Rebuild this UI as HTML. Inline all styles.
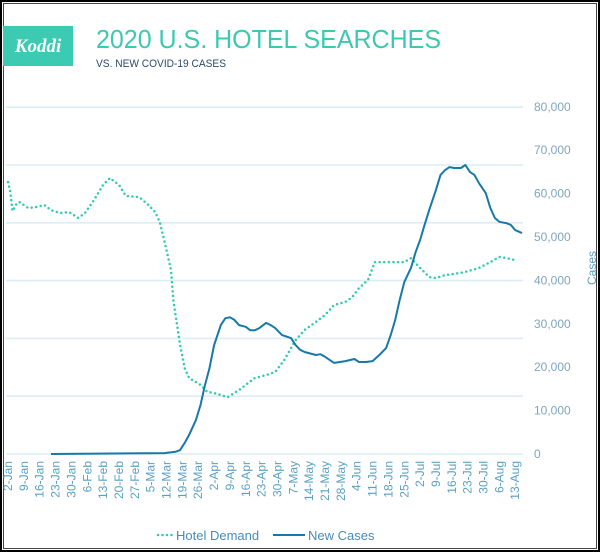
<!DOCTYPE html>
<html><head><meta charset="utf-8"><style>
body{margin:0;background:#fff}
#wrap{position:relative;width:600px;height:552px;box-sizing:border-box;border:2px solid #000;background:#fff;font-family:"Liberation Sans",sans-serif}
#inner{position:absolute;left:1px;top:1px;right:1px;bottom:1px;border:1px solid #444}
</style></head><body>
<div id="wrap"><div id="inner"></div>
<svg id="chart" width="600" height="552" style="position:absolute;left:-2px;top:-2px">
<rect x="3" y="26" width="70" height="40" fill="#3ccbb2"/>
<text x="38" y="52" text-anchor="middle" font-family="Liberation Serif,serif" font-style="italic" font-weight="bold" font-size="19" fill="#fff">Koddi</text>
<text x="96" y="48" font-size="26" fill="#3cc9b0" textLength="345" lengthAdjust="spacingAndGlyphs">2020 U.S. HOTEL SEARCHES</text>
<text x="96" y="67" font-size="11" fill="#2c4a68" textLength="130" lengthAdjust="spacingAndGlyphs">VS. NEW COVID-19 CASES</text>
<g id="grid"></g><g id="ylab"></g><g id="xlab"></g><g id="lines"></g>
<text transform="translate(596,268) rotate(-90)" text-anchor="middle" font-size="12" fill="#5aa0c4">Cases</text>
<line x1="158" y1="535" x2="173" y2="535" stroke="#2ecbb0" stroke-width="2.5" stroke-dasharray="0 4.5" stroke-linecap="round"/>
<text x="176" y="540" font-size="13" fill="#4a8ab8">Hotel Demand</text>
<line x1="273" y1="535" x2="305" y2="535" stroke="#1878a8" stroke-width="2"/>
<text x="308" y="540" font-size="13" fill="#4a8ab8">New Cases</text>
</svg></div>
<script>
const xTickLabels=["2-Jan","9-Jan","16-Jan","23-Jan","30-Jan","6-Feb","13-Feb","20-Feb","27-Feb","5-Mar","12-Mar","19-Mar","26-Mar","2-Apr","9-Apr","16-Apr","23-Apr","30-Apr","7-May","14-May","21-May","28-May","4-Jun","11-Jun","18-Jun","25-Jun","2-Jul","9-Jul","16-Jul","23-Jul","30-Jul","6-Aug","13-Aug"];
const yTickValues=[0,10000,20000,30000,40000,50000,60000,70000,80000];
const hotelDays=[0,1,2,4,5,9,13,16,19,23,27,31,34,38,42,45,49,52,58,62,65,67,69,72,73,75,76,78,80,85,88,91,97,102,109,114,118,122,127,131,136,140,144,149,152,155,159,162,167,171,175,178,182,186,189,193,197,202,208,213,217,220,224];
const hotelValues=[94.1,90.7,84.1,86.9,87.2,85.1,85.5,86.2,84.4,83.4,83.7,81.7,83.4,87.9,93.1,95.5,93.1,89.3,88.9,86.2,83.7,80.3,74,63.7,53.3,42.9,37.7,29.8,26.3,23.9,21.5,21.1,19.7,22.1,26.3,27.3,28.4,32.5,39.4,42.9,45.7,48.1,51.6,52.6,54.3,57.4,60.2,66.4,66.4,66.4,66.4,67.8,64.4,61.2,60.9,61.9,62.3,63,64.4,66.4,68.2,67.8,67.1];
const caseDays=[19,69,74,76,78,80,83,85,87,89,91,94,96,98,100,102,105,107,109,111,114,116,118,121,125,127,129,131,136,138,140,144,149,153,155,158,161,164,167,169,171,173,175,178,180,182,184,186,189,191,193,195,197,200,202,204,206,208,211,213,215,217,220,222,224,227];
const caseValues=[0,200,500,900,2500,4400,7800,11300,15900,19800,25000,29700,31300,31500,30900,29700,29300,28500,28500,29000,30200,29700,29000,27400,26700,25100,24000,23500,22800,23000,22400,21000,21400,21900,21200,21200,21400,22800,24400,27400,30900,35500,39600,42900,46500,49300,52800,56200,60800,64300,65400,66100,65900,65900,66600,65000,64300,62400,60100,56700,54400,53500,53200,52800,51600,50900];
const NS='http://www.w3.org/2000/svg';
const x0=8,dayW=15.85/7,yBase=454,pxPer10k=43.4,hotelPx=2.89;
const xs=d=>x0+d*dayW, yc=v=>yBase-v/10000*pxPer10k, yh=v=>yBase-v*hotelPx;
function mk(t,a,p){const e=document.createElementNS(NS,t);for(const k in a)e.setAttribute(k,a[k]);p.appendChild(e);return e;}
const grid=document.getElementById('grid');
for(let k=0;k<=6;k++){const y=yh(k*20);const l=mk('line',{x1:6,x2:523,y1:y,y2:y,stroke:'#dcedf6','stroke-width':1.6},grid);

}
const yl=document.getElementById('ylab');
yTickValues.forEach(v=>{const t=mk('text',{x:534,y:yc(v)+4,'font-size':12,fill:'#7fa6bf'},yl);t.textContent=v.toLocaleString('en-US');

});
const xl=document.getElementById('xlab');
xTickLabels.forEach((s,i)=>{const x=xs(i*7)+4;const t=mk('text',{transform:`translate(${x},461) rotate(-90)`,'text-anchor':'end','font-size':12,fill:'#5aa0c4'},xl);t.textContent=s;

});
const lines=document.getElementById('lines');
const hp=mk('path',{d:hotelDays.map((d,i)=>(i?'L':'M')+xs(d).toFixed(1)+','+yh(hotelValues[i]).toFixed(1)).join(''),fill:'none',stroke:'#2ecbb0','stroke-width':2.5,'stroke-dasharray':'0 4.6','stroke-linecap':'round'},lines);


const cp=mk('path',{d:caseDays.map((d,i)=>(i?'L':'M')+xs(d).toFixed(1)+','+yc(caseValues[i]).toFixed(1)).join(''),fill:'none',stroke:'#1878a8','stroke-width':2,'stroke-linejoin':'round'},lines);


</script>
</body></html>
